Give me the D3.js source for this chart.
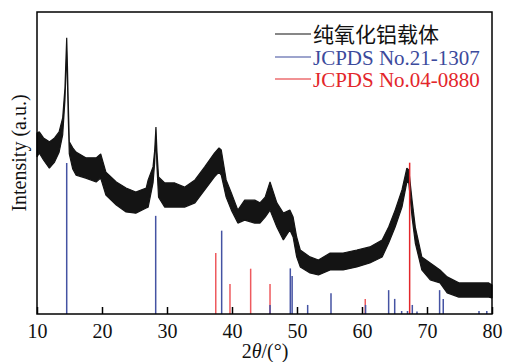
<!DOCTYPE html>
<html>
<head>
<meta charset="utf-8">
<script src="https://cdn.jsdelivr.net/npm/d3@7"></script>
<style>
  body { margin: 0; background: #fff; }
  svg { display: block; }
</style>
</head>
<body>
<script>
// XRD trace: noise band as upper / lower envelope
var twoTheta = [10.0, 10.35, 11.0, 11.9, 12.7, 13.4, 13.95, 14.3, 14.45, 14.57, 14.68, 14.8, 14.97, 15.5, 16.0,
  17.5, 19.1, 19.8, 20.6, 22.2, 23.7, 25.2, 26.8, 27.1, 27.85, 28.1, 28.3, 28.45, 28.7, 29.65, 31.2, 32.7,
  34.3, 35.8, 37.3, 38.0, 38.35, 39.1, 39.9, 40.9, 41.95, 43.5, 44.3, 45.1, 45.85, 46.9, 47.9, 48.9, 49.4,
  49.95, 50.5, 52.0, 53.3, 55.1, 57.1, 59.2, 61.2, 63.1, 64.1, 65.1, 66.15, 66.9, 67.2, 67.7, 68.2, 69.2,
  70.5, 72.0, 73.1, 74.9, 76.9, 79.5, 80.0];
var upper = [599, 603, 583, 570, 583, 603, 649, 748, 841, 915, 824, 709, 570, 550, 536,
  517, 517, 530, 470, 437, 417, 404, 417, 444, 487, 540, 619, 540, 454, 434, 434, 420,
  444, 487, 533, 550, 543, 444, 401, 344, 377, 377, 368, 387, 437, 368, 334, 344, 321,
  255, 212, 189, 179, 202, 202, 212, 222, 245, 288, 344, 411, 483, 477, 377, 288, 189,
  169, 146, 123, 103, 103, 103, 96];
var lower = [520, 533, 510, 483, 503, 536, 593, 709, 800, 895, 775, 659, 530, 480, 460,
  450, 437, 450, 394, 361, 338, 334, 351, 354, 434, 500, 590, 490, 387, 354, 354, 354,
  368, 411, 454, 470, 460, 387, 344, 301, 311, 301, 301, 321, 344, 288, 245, 278, 255,
  189, 156, 136, 129, 146, 146, 156, 169, 189, 235, 288, 354, 437, 434, 321, 235, 146,
  113, 103, 70, 56, 56, 56, 53];

// JCPDS No.21-1307 reference lines
var pdf1Pos = [14.57, 28.26, 38.41, 45.85, 48.97, 49.25, 51.64, 55.23, 60.55, 64.1, 65.03, 66.1, 67.0, 67.74, 68.46, 71.94, 72.5, 78.0, 79.2];
var pdf1Int = [500, 325, 276, 30, 151, 126, 30, 69, 30, 79, 50, 10, 10, 30, 8, 79, 50, 10, 10];

// JCPDS No.04-0880 reference lines
var pdf2Pos = [37.5, 39.69, 42.87, 45.85, 60.5, 67.33];
var pdf2Int = [202, 99, 150, 99, 50, 501];

var xTicks = [10, 20, 30, 40, 50, 60, 70, 80];

var legendNames = ['纯氧化铝载体', 'JCPDS No.21-1307', 'JCPDS No.04-0880'];

const width = 507, height = 362;
const plotLeft = 37, plotRight = 492, plotTop = 12, plotBottom = 314;
const serif = '"Liberation Serif", "Times New Roman", serif';

const xScale = d3.scaleLinear().domain([10, 80]).range([plotLeft, plotRight]);
const yScale = d3.scaleLinear().domain([0, 1000]).range([plotBottom, plotTop]);

const svg = d3.select('body').append('svg')
    .attr('width', width)
    .attr('height', height);

// the measured pattern
var band = twoTheta.map((t, i) => ({t: t, hi: upper[i], lo: lower[i]}));
svg.append('path')
    .datum(band)
    .attr('d', d3.area()
        .x(d => xScale(d.t))
        .y0(d => yScale(d.lo))
        .y1(d => yScale(d.hi)))
    .attr('fill', '#141414')
    .attr('stroke', '#141414')
    .attr('stroke-width', 1.2)
    .attr('stroke-linejoin', 'bevel');

// red reference lines
svg.selectAll('line.pdf2')
    .data(pdf2Pos)
    .enter()
    .append('line')
    .attr('class', 'pdf2')
    .attr('x1', d => xScale(d))
    .attr('x2', d => xScale(d))
    .attr('y1', yScale(0))
    .attr('y2', (d, i) => yScale(pdf2Int[i]))
    .attr('stroke', (d, i) => i == pdf2Pos.length - 1 ? '#e3262b' : '#ee5a5e')
    .attr('stroke-width', 1.5);

// blue reference lines
svg.selectAll('line.pdf1')
    .data(pdf1Pos)
    .enter()
    .append('line')
    .attr('class', 'pdf1')
    .attr('x1', d => xScale(d))
    .attr('x2', d => xScale(d))
    .attr('y1', yScale(0))
    .attr('y2', (d, i) => yScale(pdf1Int[i]))
    .attr('stroke', '#4553a3')
    .attr('stroke-width', 1.5);

// x-axis, ticks pointing inward
const xAxis = svg.append('g')
    .attr('transform', `translate(0, ${plotBottom})`)
    .call(d3.axisBottom(xScale)
        .tickValues(xTicks)
        .tickSizeInner(-7)
        .tickSizeOuter(0)
        .tickPadding(10)
        .tickFormat(d3.format('d')));
xAxis.select('.domain').remove();
xAxis.attr('font-family', null);
xAxis.selectAll('.tick line').attr('stroke', '#000').attr('stroke-width', 1.5);
xAxis.selectAll('.tick text')
    .style('font-family', serif)
    .style('font-size', '20px')
    .attr('fill', '#111');

// frame
svg.append('rect')
    .attr('x', plotLeft)
    .attr('y', plotTop)
    .attr('width', plotRight - plotLeft)
    .attr('height', plotBottom - plotTop)
    .attr('fill', 'none')
    .attr('stroke', '#000')
    .attr('stroke-width', 1.5);

// axis titles
const xTitle = svg.append('text')
    .attr('x', 265)
    .attr('y', 358)
    .attr('text-anchor', 'middle')
    .style('font-family', serif)
    .style('font-size', '20px')
    .attr('fill', '#111');
xTitle.append('tspan').text('2');
xTitle.append('tspan').style('font-style', 'italic').text('θ');
xTitle.append('tspan').text('/(°)');

svg.append('text')
    .attr('transform', 'translate(26, 153) rotate(-90)')
    .attr('text-anchor', 'middle')
    .style('font-family', serif)
    .style('font-size', '20px')
    .attr('fill', '#111')
    .text('Intensity (a.u.)');

// legend
var legendColours = ['#111', '#3c4a9c', '#e3262b'];
var legendY = [34, 57, 79];
var legend = svg.append('g');
legendNames.forEach(function (name, i) {
    legend.append('line')
        .attr('x1', 275).attr('x2', 311)
        .attr('y1', legendY[i]).attr('y2', legendY[i])
        .attr('stroke', legendColours[i])
        .attr('stroke-width', 1.2);
    legend.append('text')
        .attr('x', 313)
        .attr('y', legendY[i] + (i == 0 ? 8 : 7.5))
        .style('font-family', i == 0 ? '"Noto Sans CJK SC", sans-serif' : serif)
        .style('font-size', '21px')
        .attr('fill', legendColours[i])
        .text(name);
});
</script>
</body>
</html>
